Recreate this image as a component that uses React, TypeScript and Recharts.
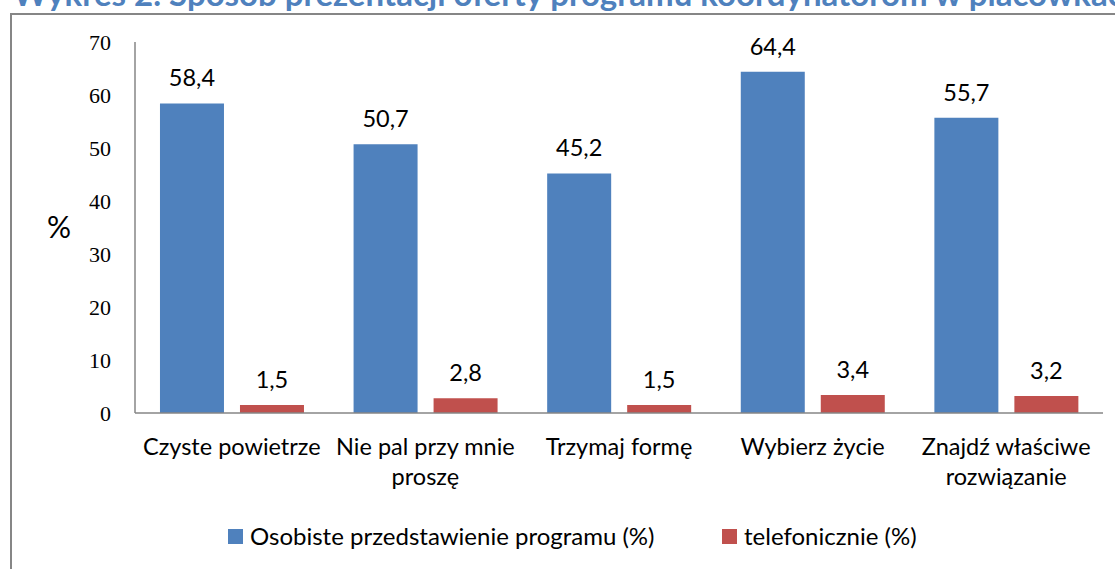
import React from "react";
import {
  Bar,
  BarChart,
  LabelList,
  Legend,
  XAxis,
  YAxis,
} from "recharts";

const categories = [
  "Czyste powietrze",
  "Nie pal przy mnie\nproszę",
  "Trzymaj formę",
  "Wybierz życie",
  "Znajdź właściwe\nrozwiązanie",
];
const osobiste = [58.4, 50.7, 45.2, 64.4, 55.7];
const telefonicznie = [1.5, 2.8, 1.5, 3.4, 3.2];
const yTicks = [0, 10, 20, 30, 40, 50, 60, 70];

const data = categories.map((name, i) => ({
  name,
  osobiste: osobiste[i],
  telefonicznie: telefonicznie[i],
}));

const SANS = "Lato, 'Open Sans', sans-serif";
const BLUE = "#4F81BD";
const RED = "#C0504D";
const AXIS = "#868686";

const fmt = (v: any) => String(v).replace(".", ",");

function CategoryTick({ x, y, payload }: any) {
  const lines = String(payload.value).split("\n");
  return (
    <text
      x={x}
      y={y}
      textAnchor="middle"
      fill="#000"
      fontFamily={SANS}
      fontSize={23.5}
    >
      {lines.map((l, i) => (
        <tspan key={i} x={x} dy={i === 0 ? 42 : 30}>
          {l}
        </tspan>
      ))}
    </text>
  );
}

function LegendContent({ payload }: any) {
  return (
    <div
      style={{
        display: "flex",
        alignItems: "center",
        fontFamily: SANS,
        fontSize: 24,
        height: 28,
        lineHeight: "28px",
      }}
    >
      {payload.map((p: any, i: number) => (
        <div
          key={i}
          style={{
            display: "flex",
            alignItems: "center",
            width: i === 0 ? 494 : "auto",
            whiteSpace: "nowrap",
          }}
        >
          <span
            style={{ width: 15, height: 15, background: p.color, display: "inline-block", marginRight: 7 }}
          />
          <span style={{ color: "#000" }}>{p.value}</span>
        </div>
      ))}
    </div>
  );
}

export default function App() {
  return (
    <div
      style={{
        position: "absolute",
        top: 0,
        left: 0,
        width: 1115,
        height: 569,
        overflow: "hidden",
        background: "#fff",
      }}
    >
      <div
        style={{
          position: "absolute",
          top: -23,
          left: 13,
          whiteSpace: "nowrap",
          fontFamily: SANS,
          fontWeight: 700,
          fontSize: 33,
          lineHeight: "33px",
          color: BLUE,
        }}
      >
        Wykres 2. Sposób prezentacji oferty programu koordynatorom w placówkach
      </div>
      <div
        style={{
          position: "absolute",
          top: 13,
          left: 10,
          width: 1200,
          height: 700,
          border: `2px solid ${AXIS}`,
          boxSizing: "border-box",
        }}
      />
      <div style={{ position: "absolute", top: 0, left: 0 }}>
        <BarChart
          width={1115}
          height={569}
          data={data}
          margin={{ top: 42, right: 12, bottom: 0, left: 35 }}
          barCategoryGap="12.9%"
          barGap={16}
        >
          <XAxis
            dataKey="name"
            axisLine={{ stroke: AXIS, strokeWidth: 1.5 }}
            tickLine={false}
            tickSize={0}
            tickMargin={0}
            interval={0}
            tick={<CategoryTick />}
            height={128}
          />
          <YAxis
            domain={[0, 70]}
            ticks={yTicks}
            interval={0}
            width={100}
            axisLine={{ stroke: AXIS, strokeWidth: 1.5 }}
            tickLine={false}
            tickSize={0}
            tickMargin={24}
            tick={{ fill: "#000", fontFamily: "'Liberation Serif', serif", fontSize: 22 }}
            label={{
              value: "%",
              position: "insideLeft",
              offset: 12,
              fill: "#000",
              fontFamily: SANS,
              fontSize: 30,
            }}
          />
          <Legend
            content={<LegendContent />}
            wrapperStyle={{ left: 228, top: 522, width: "auto" }}
          />
          <Bar
            dataKey="osobiste"
            name="Osobiste przedstawienie programu (%)"
            fill={BLUE}
            isAnimationActive={false}
          >
            <LabelList
              dataKey="osobiste"
              position="top"
              offset={17}
              formatter={fmt}
              fill="#000"
              fontFamily={SANS}
              fontSize={23.5}
            />
          </Bar>
          <Bar
            dataKey="telefonicznie"
            name="telefonicznie (%)"
            fill={RED}
            isAnimationActive={false}
          >
            <LabelList
              dataKey="telefonicznie"
              position="top"
              offset={17}
              formatter={fmt}
              fill="#000"
              fontFamily={SANS}
              fontSize={23.5}
            />
          </Bar>
        </BarChart>
      </div>
    </div>
  );
}
